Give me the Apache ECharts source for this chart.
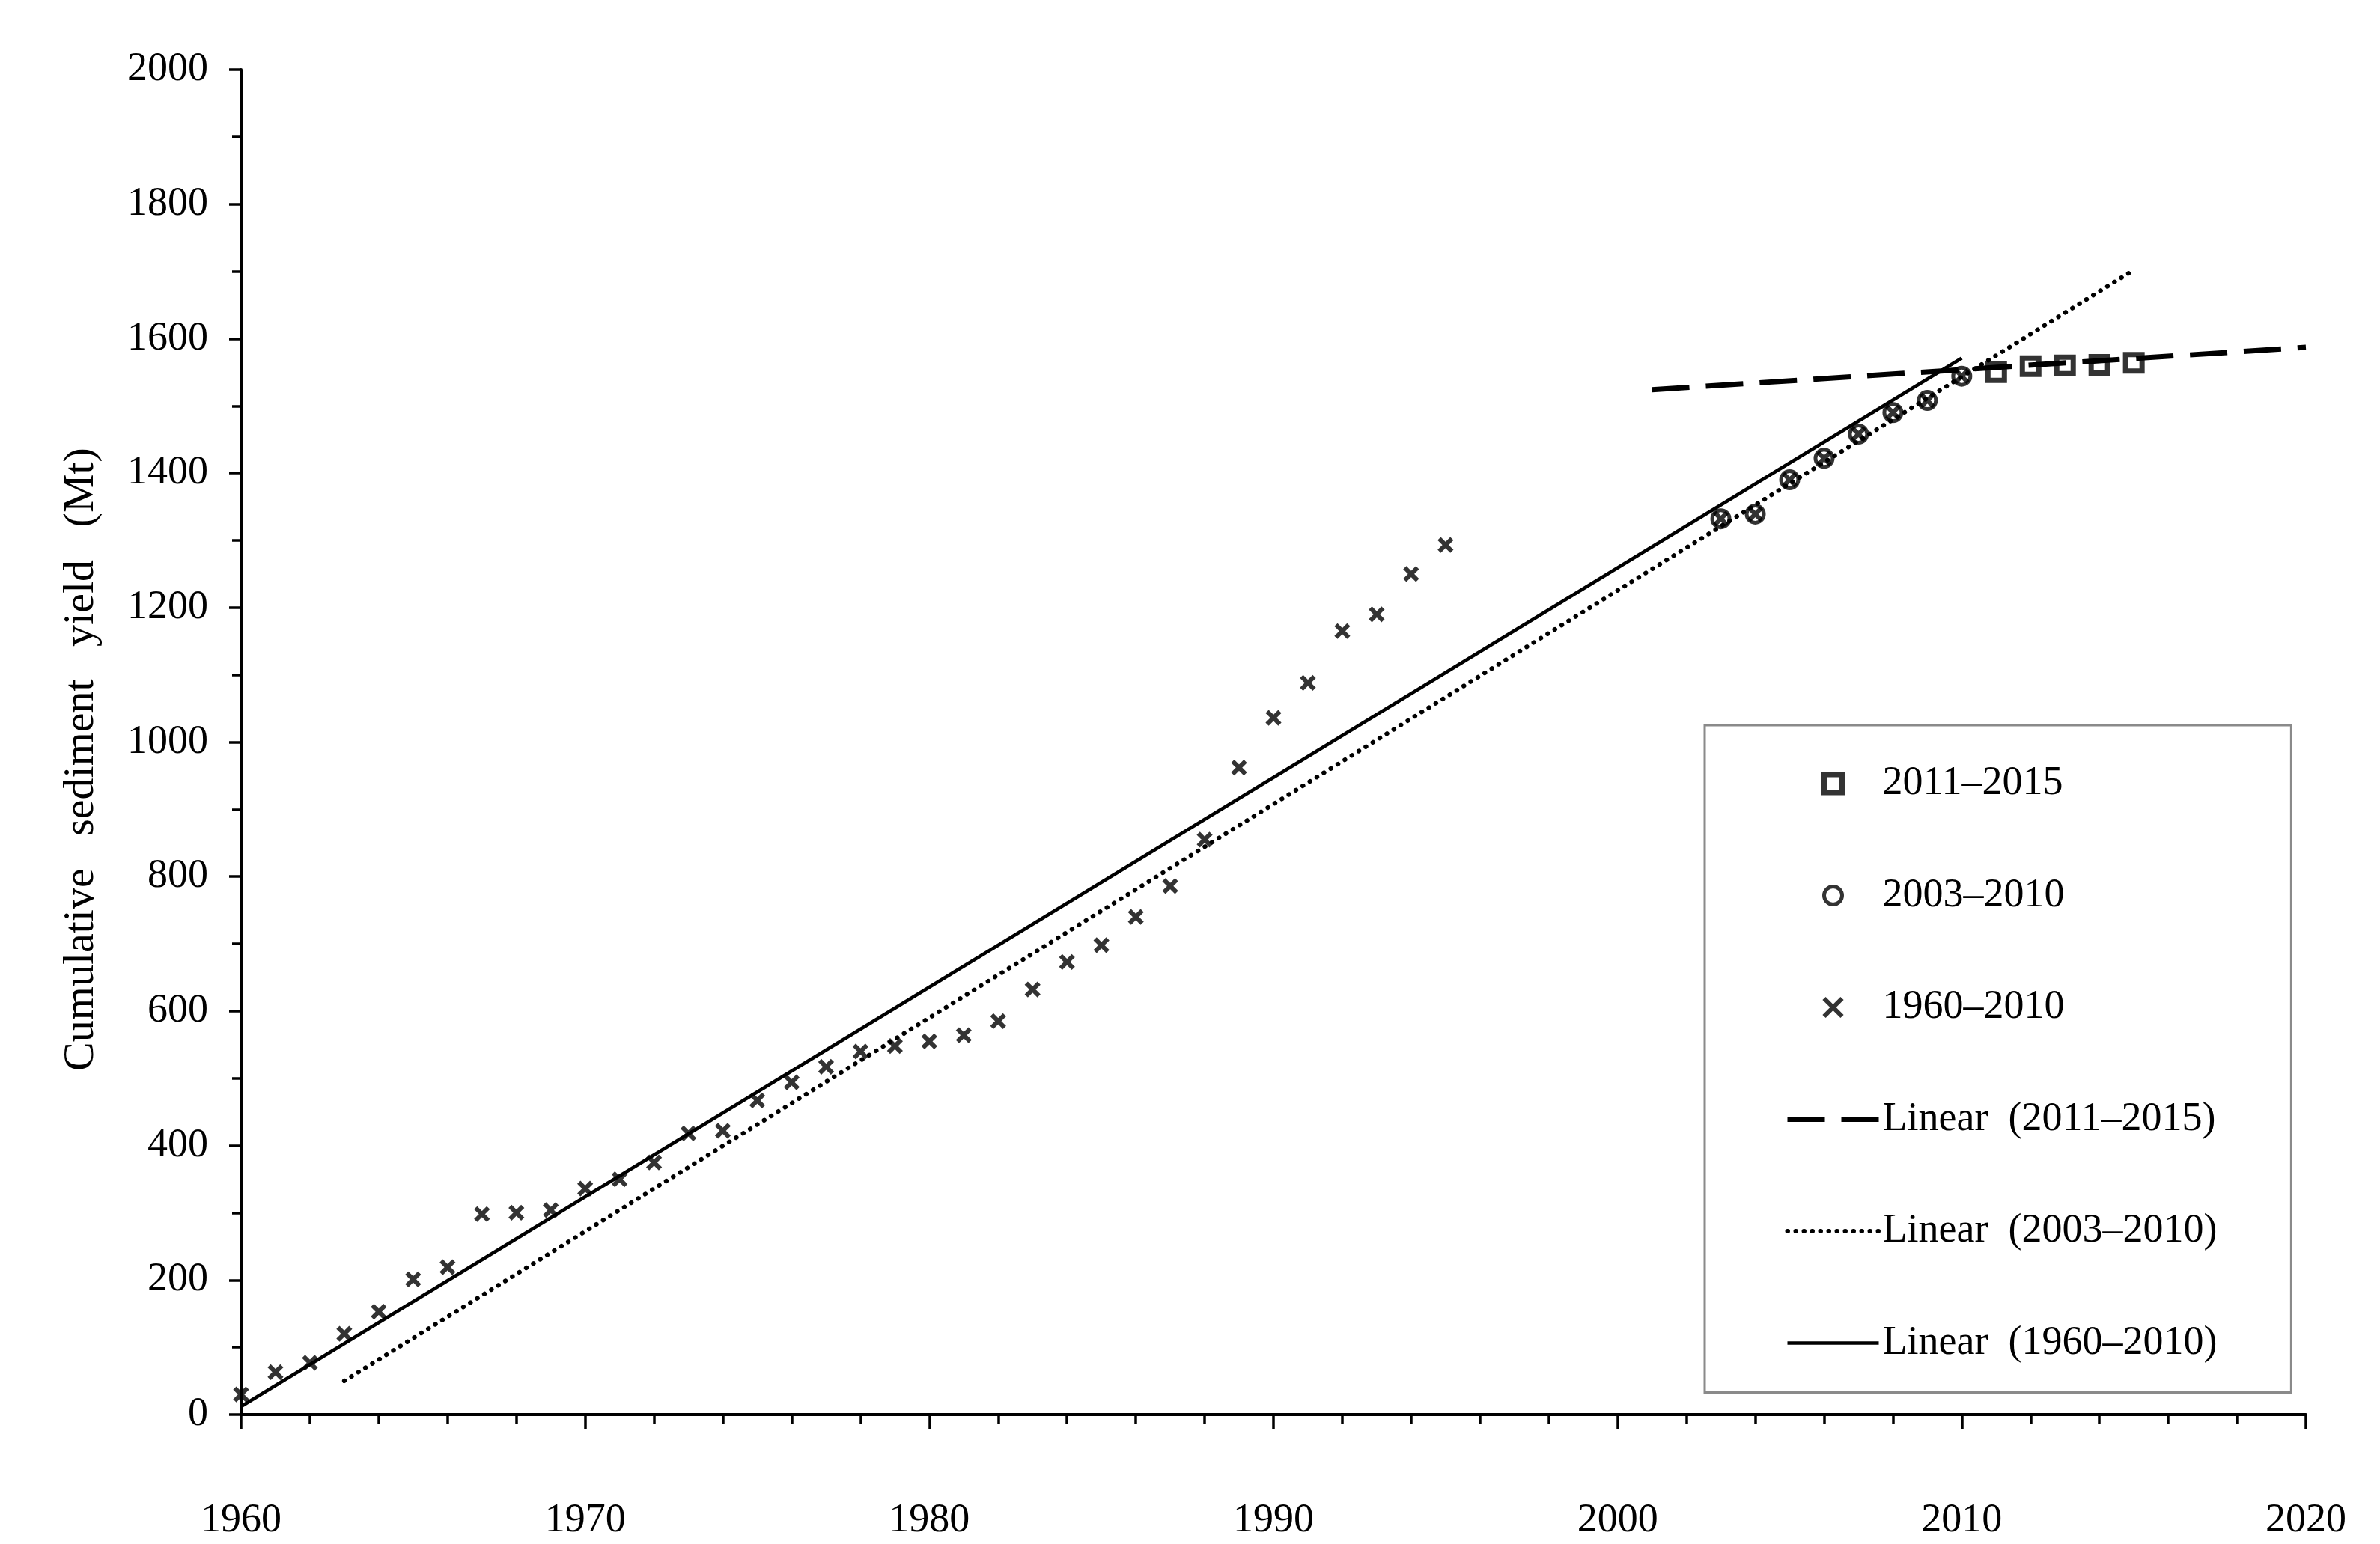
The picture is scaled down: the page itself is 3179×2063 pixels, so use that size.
<!DOCTYPE html>
<html>
<head>
<meta charset="utf-8">
<script src="https://cdn.jsdelivr.net/npm/echarts@6/dist/echarts.min.js"></script>
<style>
html,body{margin:0;padding:0;background:#fff;}
#chart{width:3179px;height:2063px;}
</style>
</head>
<body>
<div id="chart"></div>
<script>
// ---- data ----
const years1960 = [1960,1961,1962,1963,1964,1965,1966,1967,1968,1969,1970,1971,1972,1973,1974,1975,1976,1977,1978,1979,1980,1981,1982,1983,1984,1985,1986,1987,1988,1989,1990,1991,1992,1993,1994,1995,2003,2004,2005,2006,2007,2008,2009,2010];
const values1960 = [30,63,77,120,153,201,219,298,300,304,336,350,375,418,422,467,494,517,540,548,555,564,585,632,673,698,740,786,855,962,1036,1088,1165,1190,1250,1293,1332,1339,1390,1422,1458,1490,1508,1544];
const years2003 = [2003,2004,2005,2006,2007,2008,2009,2010];
const values2003 = [1332,1339,1390,1422,1458,1490,1508,1544];
const years2011 = [2011,2012,2013,2014,2015];
const values2011 = [1550,1559,1560,1561,1564];
// trend line end points
const trendYears1960 = [1960, 2010];
const trendValues1960 = [12, 1571];
const trendYears2003 = [1963, 2015];
const trendValues2003 = [50, 1702];
const trendYears2011 = [2001, 2020];
const trendValues2011 = [1524, 1587];
const yTitle = 'Cumulative sediment yield (Mt)';
const legendNames = ['2011–2015', '2003–2010', '1960–2010', 'Linear (2011–2015)', 'Linear (2003–2010)', 'Linear (1960–2010)'];

const zip = (a, b) => a.map((v, i) => [v, b[i]]);
const FONT = 'Liberation Serif';
const crossPath = 'path://M0,0 L10,10 M10,0 L0,10';
const squarePath = 'path://M0,0 L10,0 L10,10 L0,10 Z';

const solidStyle = {color: '#000', width: 4.5, type: 'solid'};
const dottedStyle = {color: '#000', width: 6, type: [0.5, 10.5], cap: 'round'};
const dashedStyle = {color: '#000', width: 7, type: [50, 22]};
const squareStyle = {color: 'rgba(0,0,0,0)', borderColor: '#000', borderWidth: 7};
const circleStyle = {color: 'rgba(0,0,0,0)', borderColor: '#000', borderWidth: 5};
const crossStyle = {color: 'rgba(0,0,0,0)', borderColor: '#000', borderWidth: 6};

const chart = echarts.init(document.getElementById('chart'), null, {renderer: 'canvas'});
chart.setOption({
  animation: false,
  backgroundColor: '#fff',
  grid: {left: 322, right: 99, top: 93, bottom: 173, containLabel: false},
  xAxis: {
    type: 'value', min: 1960, max: 2020, interval: 10,
    axisLine: {show: true, onZero: false, lineStyle: {color: '#000', width: 4}},
    axisTick: {show: true, length: 20, lineStyle: {color: '#000', width: 3.5}},
    minorTick: {show: true, splitNumber: 5, length: 13, lineStyle: {color: '#000', width: 3.5}},
    splitLine: {show: false},
    axisLabel: {color: '#000', fontFamily: FONT, fontSize: 54, margin: 115, formatter: v => String(v)}
  },
  yAxis: {
    type: 'value', min: 0, max: 2000, interval: 200,
    name: yTitle.split(' ').join('   '), nameLocation: 'middle', nameGap: 184,
    nameTextStyle: {color: '#000', fontFamily: FONT, fontSize: 58, padding: [0, 0, 0, -46]},
    axisLine: {show: true, onZero: false, lineStyle: {color: '#000', width: 4}},
    axisTick: {show: true, length: 16, lineStyle: {color: '#000', width: 3.5}},
    minorTick: {show: true, splitNumber: 2, length: 12, lineStyle: {color: '#000', width: 3.5}},
    splitLine: {show: false},
    axisLabel: {color: '#000', fontFamily: FONT, fontSize: 54, margin: 44, formatter: v => String(v)}
  },
  legend: {
    orient: 'vertical', left: 2277, top: 969,
    padding: [48, 99, 36, 107],
    itemGap: 89.5, itemWidth: 122, itemHeight: 24,
    borderColor: '#8a8a8a', borderWidth: 3, backgroundColor: '#fff',
    symbolKeepAspect: true,
    textStyle: {color: '#000', fontFamily: FONT, fontSize: 54, lineHeight: 60},
    formatter: n => n.replace('Linear ', 'Linear  '),
    data: [
      {name: legendNames[0], itemStyle: squareStyle},
      {name: legendNames[1], itemStyle: circleStyle},
      {name: legendNames[2], itemStyle: crossStyle},
      {name: legendNames[3], itemStyle: {opacity: 0}, lineStyle: dashedStyle},
      {name: legendNames[4], itemStyle: {opacity: 0}, lineStyle: dottedStyle},
      {name: legendNames[5], itemStyle: {opacity: 0}, lineStyle: solidStyle}
    ]
  },
  series: [
    {
      name: legendNames[5], type: 'line', symbol: 'none', z: 2,
      data: zip(trendYears1960, trendValues1960),
      itemStyle: {color: '#000'}, lineStyle: solidStyle
    },
    {
      name: legendNames[4], type: 'line', symbol: 'none', z: 2,
      data: zip(trendYears2003, trendValues2003),
      itemStyle: {color: '#000'}, lineStyle: dottedStyle
    },
    {
      name: legendNames[3], type: 'line', symbol: 'none', z: 2,
      data: zip(trendYears2011, trendValues2011),
      itemStyle: {color: '#000'}, lineStyle: dashedStyle
    },
    {
      name: legendNames[2], type: 'scatter', z: 3,
      symbol: crossPath, symbolSize: 17, symbolKeepAspect: true,
      data: zip(years1960, values1960), itemStyle: crossStyle
    },
    {
      name: legendNames[1], type: 'scatter', z: 4,
      symbol: 'circle', symbolSize: 23, symbolKeepAspect: true,
      data: zip(years2003, values2003), itemStyle: circleStyle
    },
    {
      name: legendNames[0], type: 'scatter', z: 4,
      symbol: squarePath, symbolSize: 22, symbolKeepAspect: true,
      data: zip(years2011, values2011), itemStyle: squareStyle
    }
  ]
});
</script>
</body>
</html>
